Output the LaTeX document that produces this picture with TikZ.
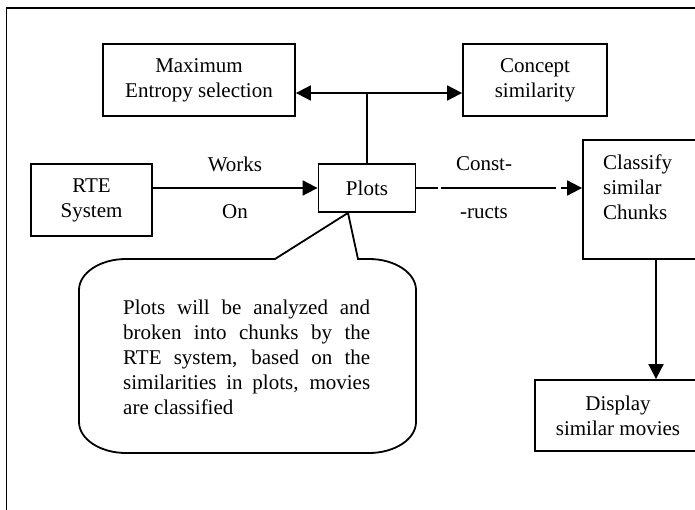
\documentclass[tikz,border=0pt]{standalone}
\usepackage{fontspec}
\setmainfont{Liberation Serif}
\usetikzlibrary{arrows.meta}
\tikzset{
  box/.style={draw, line width=1.8pt, inner sep=0pt, align=center,
    font=\fontsize{21}{25}\selectfont},
  lbl/.style={inner sep=0pt, font=\fontsize{21}{25}\selectfont},
  conn/.style={line width=1.8pt},
  tip/.tip={Triangle[length=15pt,width=15pt]},
  arr/.style={conn, -tip},
}
\begin{document}
\begin{tikzpicture}[x=1pt,y=-1pt]
\useasboundingbox (0,0) rectangle (695,510);
\clip (0,0) rectangle (695,510);
% outer frame (right and bottom edges lie outside the view)
\draw[line width=1.8pt] (6.5,8) rectangle (740,540);
% boxes
\node[box, minimum width=192pt, minimum height=72pt] (maxent) at (199,80) {Maximum\\Entropy selection};
\node[box, minimum width=144pt, minimum height=72pt] (concept) at (535,80) {Concept\\similarity};
\node[box, minimum width=121pt, minimum height=72pt] (rte) at (91.5,200) {RTE\\System};
\node[box, minimum width=97pt, minimum height=48pt] (plots) at (367,188) {Plots};
\node[box, minimum width=146pt, minimum height=119pt] (classify) at (656,199.5) {};
\node[lbl, text width=100pt, align=left, anchor=base west] (classtext) at (603,170) {Classify\\similar\\Chunks};
\node[box, minimum width=166pt, minimum height=71pt] (display) at (618,415.5) {Display\\similar movies};
% labels
\node[lbl] (works) at (235,164) {Works};
\node[lbl] (on) at (235,212) {On};
\node[lbl] (const) at (484,164) {Const-};
\node[lbl] (ructs) at (484,213) {-ructs};
% connectors
\coordinate (j) at (367,93);
\draw[conn, tip-tip] (maxent.east |- j) -- (concept.west |- j);
\draw[conn] (plots.north) -- (j);
\draw[arr] (rte.east |- plots.west) -- (plots.west);
\draw[arr, dash pattern=on 22pt off 3pt on 115pt off 5pt on 60pt] (plots.east) -- (classify.west |- plots.east);
\draw[arr] (classify.south) -- (classify.south |- display.north);
% callout
\coordinate (ptip) at (plots.south -| 348,0);
\draw[line width=1.8pt, line join=miter]
  (126,259) -- (275,259) -- (ptip) -- (358,259) -- (369,259)
  .. controls (395,259) and (416,273) .. (416,290)
  -- (416,422)
  .. controls (416,439) and (395,453) .. (369,453)
  -- (126,453)
  .. controls (100,453) and (79,439) .. (79,422)
  -- (79,290)
  .. controls (79,273) and (100,259) .. (126,259) -- cycle;
\node[lbl, text width=247pt, align=justify, anchor=base west] (note) at (123,314)
  {Plots will be analyzed and broken into chunks by the RTE system, based on the similarities in plots, movies are classified};
\end{tikzpicture}
\end{document}
